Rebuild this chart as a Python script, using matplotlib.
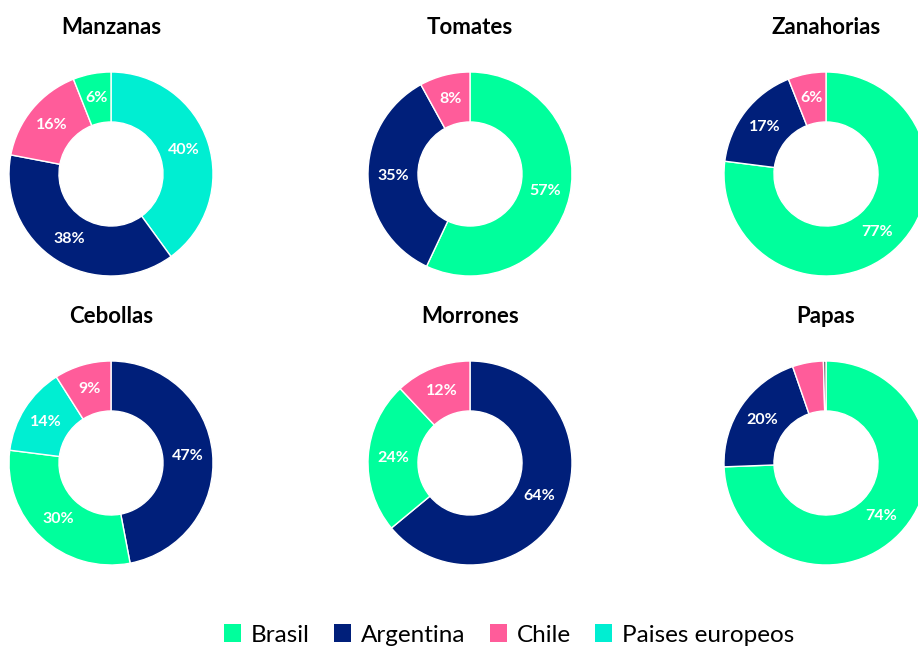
import numpy as np
import matplotlib.pyplot as plt
from matplotlib.patches import Patch

plt.rcParams['font.family'] = ['Lato', 'DejaVu Sans']

# datos (% por origen)
productos = ['Manzanas', 'Tomates', 'Zanahorias', 'Cebollas', 'Morrones', 'Papas']
origenes = ['Brasil', 'Argentina', 'Chile', 'Paises europeos', 'Otros']
brasil = [6, 57, 77, 30, 24, 74.4]
argentina = [38, 35, 17, 47, 64, 20.3]
chile = [16, 8, 6, 9, 12, 4.9]
europa = [40, 0, 0, 14, 0, 0]
otros = [0, 0, 0, 0, 0, 0.4]

colores = ['#00FF9C', '#001F7A', '#FF5C9A', '#00EED2', '#555555']

W, H = 918, 649
fig = plt.figure(figsize=(W / 100, H / 100), dpi=100)

# centros de cada dona en pixeles (desde arriba a la izquierda)
centros_x = [111, 470, 826]
centros_y = [174, 463]
r_px = 102
lim = 1.25
size = 2 * r_px * lim

valores = np.array([brasil, argentina, chile, europa, otros]).T

for i, prod in enumerate(productos):
    cx = centros_x[i % 3]
    cy = centros_y[i // 3]
    ax = fig.add_axes([(cx - size / 2) / W, (H - cy - size / 2) / H, size / W, size / H])
    v = valores[i]
    idx = [k for k in np.argsort(-v, kind='stable') if v[k] > 0]
    vals = v[idx]
    cols = [colores[k] for k in idx]
    wedges, _ = ax.pie(vals, colors=cols, startangle=90, counterclock=False, radius=1,
                       wedgeprops=dict(width=0.49, edgecolor='white', linewidth=1))
    # etiquetas
    ang0 = 90
    for val in vals:
        mid = ang0 - val * 3.6 / 2
        ang0 -= val * 3.6
        if val >= 5.5:
            x = 0.755 * np.cos(np.radians(mid))
            y = 0.755 * np.sin(np.radians(mid))
            ax.text(x, y, f'{val:.0f}%', ha='center', va='center', color='white',
                    fontsize=11.5, fontweight='bold')
    ax.set_xlim(-lim, lim)
    ax.set_ylim(-lim, lim)
    ax.set_aspect('equal')
    ax.axis('off')
    fig.text(cx / W, 1 - (cy - 146) / H, prod, ha='center', va='center',
             fontsize=16, fontweight='bold')

handles = [Patch(facecolor=c, edgecolor='none') for c in colores[:4]]
fig.legend(handles, origenes[:4], loc='center', bbox_to_anchor=(509 / W, 14 / H), ncol=4,
           frameon=False, fontsize=17.5, handlelength=0.7, handleheight=0.7,
           handletextpad=0.4, columnspacing=1.0)

fig.savefig('out.png', dpi=100)
